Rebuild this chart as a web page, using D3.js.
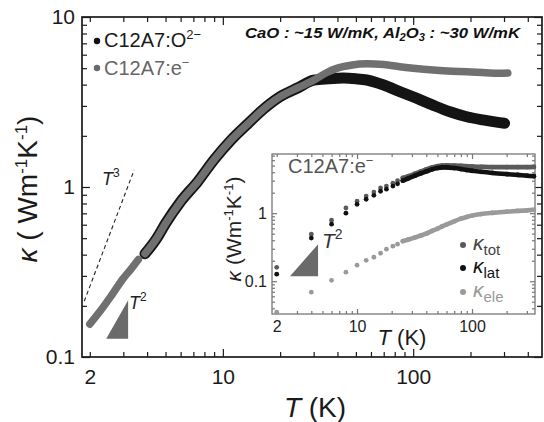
<!DOCTYPE html>
<html>
<head>
<meta charset="utf-8">
<script src="https://cdn.jsdelivr.net/npm/d3@7"></script>
<style>
  body { margin: 0; background: #fff; }
  svg { display: block; font-family: "Liberation Sans", Arial, sans-serif; }
</style>
</head>
<body>
<svg id="chart" width="544" height="422"></svg>
<script>
// ---- main panel data ----
const lowT = [2.0, 2.3, 2.6, 3.0, 3.3, 3.6];            // C12A7:e- only, below the gap
const lowK = [0.156, 0.19, 0.23, 0.29, 0.33, 0.375];
const sharedT = [3.9, 4.5, 5.0, 6.0, 7.4, 9.0, 11, 13.5, 16.4, 20, 25, 30];   // both samples overlap
const sharedK = [0.405, 0.5, 0.61, 0.82, 1.08, 1.45, 1.88, 2.35, 2.88, 3.4, 3.85, 4.25];
const electrideT = [35, 40, 47, 57, 70, 85, 100, 127, 160, 191, 240, 285, 314];
const electrideK = [4.7, 5.0, 5.2, 5.3, 5.25, 5.1, 5.0, 4.88, 4.8, 4.77, 4.7, 4.66, 4.68];
const oxideT = [36, 43, 50, 57, 70, 85, 104, 127, 156, 191, 232, 285, 302];
const oxideK = [4.33, 4.37, 4.33, 4.26, 3.98, 3.64, 3.33, 3.03, 2.77, 2.59, 2.48, 2.39, 2.37];

// guide lines
const cubeT = [1.87, 3.42], cubeK = [0.213, 1.26];
const squareT = [2.44, 3.18], squareK = [0.128, 0.216];

// ---- inset data ----
const insetT = [2, 4, 6, 8, 10, 12, 14, 16, 18, 20.5, 22.5, 25, 28, 32, 36, 40, 45, 50, 55, 60, 70, 80, 90, 100, 120, 150, 200, 250, 300, 345];
const totK = [0.16, 0.49, 0.79, 1.19, 1.5, 1.78, 2.04, 2.35, 2.5, 2.75, 3.0, 3.3, 3.5, 3.8, 4.1, 4.4, 4.7, 4.9, 5.0, 5.05, 5.0, 4.95, 4.9, 4.85, 4.8, 4.75, 4.75, 4.75, 4.75, 4.78];
const latK = [0.127, 0.43, 0.69, 1.0, 1.35, 1.6, 1.83, 2.1, 2.25, 2.5, 2.7, 3.0, 3.25, 3.55, 3.85, 4.1, 4.4, 4.6, 4.7, 4.7, 4.6, 4.45, 4.3, 4.2, 4.05, 3.9, 3.75, 3.65, 3.55, 3.5];
const eleK = [0.035, 0.069, 0.103, 0.136, 0.172, 0.203, 0.225, 0.258, 0.296, 0.327, 0.35, 0.388, 0.41, 0.44, 0.47, 0.5, 0.55, 0.59, 0.64, 0.68, 0.76, 0.83, 0.88, 0.92, 0.97, 1.01, 1.05, 1.08, 1.1, 1.12];
const insetSquareT = [2.61, 4.58], insetSquareK = [0.118, 0.35];

// tick labels
const mainXLabels = [2, 10, 100];
const mainYLabels = [0.1, 1, 10];
const insetXLabels = [2, 10, 100];
const insetYLabels = [0.1, 1];

const svg = d3.select("#chart");
const zip = (a, b) => a.map((v, i) => [v, b[i]]);
const near = (list, d) => list.some(l => Math.abs(l - d) / l < 1e-6);

const x = d3.scaleLog().domain([1.82, 475]).range([82, 542]);
const y = d3.scaleLog().domain([0.1, 10]).range([357, 17]);
const xi = d3.scaleLog().domain([1.82, 353]).range([272, 535]);
const yi = d3.scaleLog().domain([0.033, 7.4]).range([314, 154]);

function drawAxes(g, xs, ys, opt) {
  const [x0, x1] = xs.range(), [y0, y1] = ys.range();
  const isMajor = d => Math.abs(Math.log10(d) - Math.round(Math.log10(d))) < 1e-6;
  const len = d => isMajor(d) ? opt.major : opt.minor;
  const fmt = labels => d => near(labels, d) ? d3.format("~g")(d) : "";

  const b = g.append("g").attr("transform", `translate(0,${y0})`)
    .call(d3.axisBottom(xs).tickValues(xs.ticks()).tickSize(-opt.minor).tickPadding(opt.padX).tickFormat(fmt(opt.xLabels)));
  b.selectAll(".tick line").attr("y2", d => -len(d));
  const t = g.append("g").attr("transform", `translate(0,${y1})`)
    .call(d3.axisTop(xs).tickValues(xs.ticks()).tickSize(-opt.minor).tickFormat(""));
  t.selectAll(".tick line").attr("y2", d => len(d));
  const l = g.append("g").attr("transform", `translate(${x0},0)`)
    .call(d3.axisLeft(ys).tickValues(ys.ticks()).tickSize(-opt.minor).tickPadding(opt.padY).tickFormat(fmt(opt.yLabels)));
  l.selectAll(".tick line").attr("x2", d => len(d));
  const r = g.append("g").attr("transform", `translate(${x1},0)`)
    .call(d3.axisRight(ys).tickValues(ys.ticks()).tickSize(-opt.minor).tickFormat(""));
  r.selectAll(".tick line").attr("x2", d => -len(d));

  g.selectAll(".domain").remove();
  g.selectAll(".tick line").attr("stroke", opt.color).attr("stroke-width", 1.2);
  g.selectAll("g").attr("font-family", null).attr("font-size", opt.fontSize);
  g.selectAll(".tick text").attr("fill", opt.textColor);
  g.append("rect")
    .attr("x", x0).attr("y", y1).attr("width", x1 - x0).attr("height", y0 - y1)
    .attr("fill", "none").attr("stroke", opt.color).attr("stroke-width", opt.frame);
}

// ---- main panel ----
const main = svg.append("g");
drawAxes(main, x, y, {
  major: 8, minor: 5, padX: 12, padY: 7, fontSize: 21, frame: 1.7,
  color: "#1a1a1a", textColor: "#1a1a1a", xLabels: mainXLabels, yLabels: mainYLabels
});

const line = d3.line()
  .defined(d => d !== null)
  .x(d => x(d[0])).y(d => y(d[1]))
  .curve(d3.curveMonotoneX);

// C12A7:O2- (black) underneath
main.append("path")
  .datum(zip(sharedT, sharedK).concat(zip(oxideT, oxideK)))
  .attr("d", line)
  .attr("fill", "none").attr("stroke", "#141414").attr("stroke-width", 11)
  .attr("stroke-linecap", "round").attr("stroke-linejoin", "round");

// C12A7:e- (grey) on top, with the small gap near 3.7 K
main.append("path")
  .datum(zip(lowT, lowK).concat([null], zip(sharedT, sharedK), zip(electrideT, electrideK)))
  .attr("d", line)
  .attr("fill", "none").attr("stroke", "#707070").attr("stroke-width", 7.5)
  .attr("stroke-linecap", "round").attr("stroke-linejoin", "round");

// T^3 dashed guide
main.append("path")
  .datum(zip(cubeT, cubeK))
  .attr("d", d3.line().x(d => x(d[0])).y(d => y(d[1])))
  .attr("fill", "none").attr("stroke", "#222").attr("stroke-width", 1.1)
  .attr("stroke-dasharray", "4,3");

main.append("text").attr("x", 102).attr("y", 185)
  .attr("font-size", 18).attr("fill", "#222")
  .call(t => {
    t.append("tspan").attr("font-style", "italic").text("T");
    t.append("tspan").attr("font-size", 12).attr("dy", -8).text("3");
  });

// T^2 triangle
main.append("path")
  .datum([[squareT[0], squareK[0]], [squareT[1], squareK[0]], [squareT[1], squareK[1]]])
  .attr("d", d => d3.line().x(p => x(p[0])).y(p => y(p[1]))(d) + "Z")
  .attr("fill", "#6a6a6a");

main.append("text").attr("x", 129).attr("y", 309)
  .attr("font-size", 18).attr("fill", "#222")
  .call(t => {
    t.append("tspan").attr("font-style", "italic").text("T");
    t.append("tspan").attr("font-size", 12).attr("dy", -8).text("2");
  });

// legend
main.append("circle").attr("cx", 97).attr("cy", 41).attr("r", 3.2).attr("fill", "#111");
main.append("text").attr("x", 104).attr("y", 47).attr("font-size", 20).attr("fill", "#1a1a1a")
  .call(t => {
    t.append("tspan").text("C12A7:O");
    t.append("tspan").attr("font-size", 13).attr("dy", -8).text("2\u2212");
  });
main.append("circle").attr("cx", 97).attr("cy", 68).attr("r", 3.2).attr("fill", "#6a6a6a");
main.append("text").attr("x", 104).attr("y", 75).attr("font-size", 20).attr("fill", "#666")
  .call(t => {
    t.append("tspan").text("C12A7:e");
    t.append("tspan").attr("font-size", 13).attr("dy", -8).text("\u2212");
  });

// annotation
const note = main.append("text").attr("x", 0).attr("y", 0)
  .attr("font-size", 15).attr("font-weight", "bold").attr("font-style", "italic").attr("fill", "#111")
  .call(t => {
    t.append("tspan").text("CaO : ~15 W/mK, Al");
    t.append("tspan").attr("font-size", 10).attr("dy", 3).text("2");
    t.append("tspan").attr("dy", -3).text("O");
    t.append("tspan").attr("font-size", 10).attr("dy", 3).text("3");
    t.append("tspan").attr("dy", -3).text(" : ~30 W/mK");
  });
const nw = note.node().getComputedTextLength();
note.attr("transform", `translate(245,38) scale(${275 / nw},1)`);

// axis titles
main.append("text")
  .attr("transform", "translate(37,189) rotate(-90)")
  .attr("text-anchor", "middle").attr("font-size", 28).attr("fill", "#1a1a1a")
  .call(t => {
    t.append("tspan").attr("font-style", "italic").text("\u03ba");
    t.append("tspan").text(" ( Wm");
    t.append("tspan").attr("font-size", 17).attr("dy", -10).text("-1");
    t.append("tspan").attr("dy", 10).text("K");
    t.append("tspan").attr("font-size", 17).attr("dy", -10).text("-1");
    t.append("tspan").attr("dy", 10).text(")");
  });

main.append("text").attr("x", 315).attr("y", 417)
  .attr("text-anchor", "middle").attr("font-size", 28).attr("fill", "#1a1a1a")
  .call(t => {
    t.append("tspan").attr("font-style", "italic").text("T");
    t.append("tspan").text(" (K)");
  });

// ---- inset ----
const inset = svg.append("g");
inset.append("rect")
  .attr("x", xi.range()[0]).attr("y", yi.range()[1])
  .attr("width", xi.range()[1] - xi.range()[0]).attr("height", yi.range()[0] - yi.range()[1])
  .attr("fill", "#fff");
drawAxes(inset, xi, yi, {
  major: 5, minor: 3, padX: 7, padY: 5, fontSize: 16, frame: 1.3,
  color: "#777", textColor: "#222", xLabels: insetXLabels, yLabels: insetYLabels
});

const iline = d3.line().x(d => xi(d[0])).y(d => yi(d[1])).curve(d3.curveMonotoneX);
const series = [
  { k: totK, color: "#5a5a5a" },
  { k: latK, color: "#111" },
  { k: eleK, color: "#9a9a9a" }
];
series.forEach(s => {
  const pts = zip(insetT, s.k);
  inset.append("path")
    .datum(pts.filter(p => p[0] >= 25))
    .attr("d", iline)
    .attr("fill", "none").attr("stroke", s.color).attr("stroke-width", 4.6)
    .attr("stroke-linecap", "round");
  inset.selectAll(null).data(pts).enter().append("circle")
    .attr("cx", d => xi(d[0])).attr("cy", d => yi(d[1]))
    .attr("r", 2.4).attr("fill", s.color);
});

inset.append("path")
  .datum([[insetSquareT[0], insetSquareK[0]], [insetSquareT[1], insetSquareK[0]], [insetSquareT[1], insetSquareK[1]]])
  .attr("d", d => d3.line().x(p => xi(p[0])).y(p => yi(p[1]))(d) + "Z")
  .attr("fill", "#6a6a6a");
inset.append("text").attr("x", 322).attr("y", 248)
  .attr("font-size", 21).attr("fill", "#333")
  .call(t => {
    t.append("tspan").attr("font-style", "italic").text("T");
    t.append("tspan").attr("font-size", 14).attr("dy", -9).text("2");
  });

inset.append("text").attr("x", 288).attr("y", 173)
  .attr("font-size", 20).attr("fill", "#555")
  .call(t => {
    t.append("tspan").text("C12A7:e");
    t.append("tspan").attr("font-size", 13).attr("dy", -8).text("\u2212");
  });

// inset legend
const legendItems = [
  { sub: "tot", dot: "#5a5a5a", text: "#444", y: 245 },
  { sub: "lat", dot: "#111", text: "#111", y: 268 },
  { sub: "ele", dot: "#9a9a9a", text: "#999", y: 292 }
];
legendItems.forEach(it => {
  inset.append("circle").attr("cx", 463).attr("cy", it.y).attr("r", 3).attr("fill", it.dot);
  inset.append("text").attr("x", 473).attr("y", it.y + 5)
    .attr("font-size", 21).attr("fill", it.text)
    .call(t => {
      t.append("tspan").attr("font-style", "italic").text("\u03ba");
      t.append("tspan").attr("font-size", 15).attr("dy", 5).text(it.sub);
    });
});

// inset axis titles
inset.append("text")
  .attr("transform", "translate(241,229) rotate(-90)")
  .attr("text-anchor", "middle").attr("font-size", 21).attr("fill", "#222")
  .call(t => {
    t.append("tspan").attr("font-style", "italic").text("\u03ba");
    t.append("tspan").text(" (Wm");
    t.append("tspan").attr("font-size", 13).attr("dy", -8).text("-1");
    t.append("tspan").attr("dy", 8).text("K");
    t.append("tspan").attr("font-size", 13).attr("dy", -8).text("-1");
    t.append("tspan").attr("dy", 8).text(")");
  });
inset.append("text").attr("x", 402).attr("y", 345)
  .attr("text-anchor", "middle").attr("font-size", 22).attr("fill", "#1a1a1a")
  .call(t => {
    t.append("tspan").attr("font-style", "italic").text("T");
    t.append("tspan").text(" (K)");
  });
</script>
</body>
</html>
